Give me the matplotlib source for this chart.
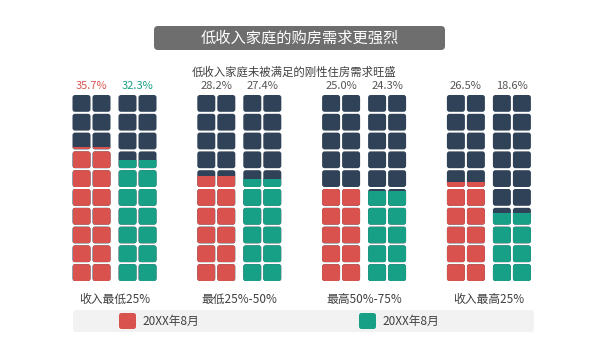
import matplotlib
matplotlib.use("Agg")
import matplotlib.pyplot as plt
from matplotlib.patches import FancyBboxPatch, Rectangle
import numpy as np

plt.rcParams['font.family'] = ['Noto Sans CJK SC', 'DejaVu Sans']

# ---------------- data ----------------
categories = ["收入最低25%", "最低25%-50%", "最高50%-75%", "收入最高25%"]
series_names = ["20XX年8月", "20XX年8月"]
series_a = [35.7, 28.2, 25.0, 26.5]
series_b = [32.3, 27.4, 24.3, 18.6]
title = "低收入家庭的购房需求更强烈"
subtitle = "低收入家庭未被满足的刚性住房需求旺盛"

# ---------------- style ----------------
RED = "#da524d"
TEAL = "#17a085"
NAVY = "#2f4257"
GRAY_TXT = "#555555"
W, H = 600, 338

fig = plt.figure(figsize=(6, 3.38), dpi=100)
fig.patch.set_facecolor("white")

# overlay axes in pixel units
ov = fig.add_axes([0, 0, 1, 1])
ov.set_xlim(0, W)
ov.set_ylim(H, 0)
ov.axis('off')

# data axes: x in group units, y in percent
px_per_group = 124.8
x0px = 114.5
bottom_px, top_px = 282, 94
ymax = 50.0
rows, cols = 10, 2
row_val = ymax / rows
ppu = (bottom_px - top_px) / ymax
ux = 1.0 / px_per_group

ax = fig.add_axes([0, 0, 1, 1])
ax.set_xlim(-x0px / px_per_group, (W - x0px) / px_per_group)
ax.set_ylim(-(H - bottom_px) / ppu, ymax + top_px / ppu)
ax.axis('off')

cell_w_px, gap_px, radius_px = 18, 2, 2.5
bar_off_px = 23
cell_h = row_val - gap_px / ppu
m_aspect = px_per_group / ppu


def draw_bar(cx, value, color):
    for j in range(cols):
        left = cx - (cols * cell_w_px + (cols - 1) * gap_px) / 2 * ux + j * (cell_w_px + gap_px) * ux
        w = cell_w_px * ux
        for k in range(rows):
            b = k * row_val + gap_px / ppu / 2
            cell = FancyBboxPatch((left, b), w, cell_h,
                                  boxstyle=f"round,pad=0,rounding_size={radius_px * ux}",
                                  mutation_aspect=m_aspect,
                                  facecolor=NAVY, edgecolor="none")
            ax.add_patch(cell)
            f = float(np.clip(value / row_val - k, 0, 1))
            if f > 0:
                r = Rectangle((left, b), w, cell_h * f, facecolor=color, edgecolor="none")
                ax.add_patch(r)
                r.set_clip_path(cell)


for i, (va, vb) in enumerate(zip(series_a, series_b)):
    ca = i - bar_off_px * ux
    cb = i + bar_off_px * ux
    draw_bar(ca, va, RED)
    draw_bar(cb, vb, TEAL)
    col_a = RED if i == 0 else GRAY_TXT
    col_b = TEAL if i == 0 else GRAY_TXT
    ly = ymax + 8 / ppu
    ax.text(ca, ly, f"{va:.1f}%", ha="center", va="center", fontsize=8, color=col_a)
    ax.text(cb, ly, f"{vb:.1f}%", ha="center", va="center", fontsize=8, color=col_b)
    ax.text(i, -(299 - bottom_px) / ppu, categories[i], ha="center", va="center",
            fontsize=8.5, color="#404040")

# title box
ov.add_patch(FancyBboxPatch((154, 26), 291, 24, boxstyle="round,pad=0,rounding_size=4",
                            facecolor="#6e6e6e", edgecolor="none"))
ov.text(300, 38.5, title, ha="center", va="center", fontsize=11, color="white")
ov.text(294, 72, subtitle, ha="center", va="center", fontsize=8.2, color="#404040")

# legend
ov.add_patch(FancyBboxPatch((73, 310), 461, 22, boxstyle="round,pad=0,rounding_size=3",
                            facecolor="#f2f2f2", edgecolor="none"))
for lx, c, name in [(119, RED, series_names[0]), (359, TEAL, series_names[1])]:
    ov.add_patch(FancyBboxPatch((lx, 313), 17, 16, boxstyle="round,pad=0,rounding_size=2.5",
                                facecolor=c, edgecolor="none"))
    ov.text(lx + 23, 321.5, name, ha="left", va="center", fontsize=8.5, color="#404040")

fig.savefig("out.png", dpi=100)
